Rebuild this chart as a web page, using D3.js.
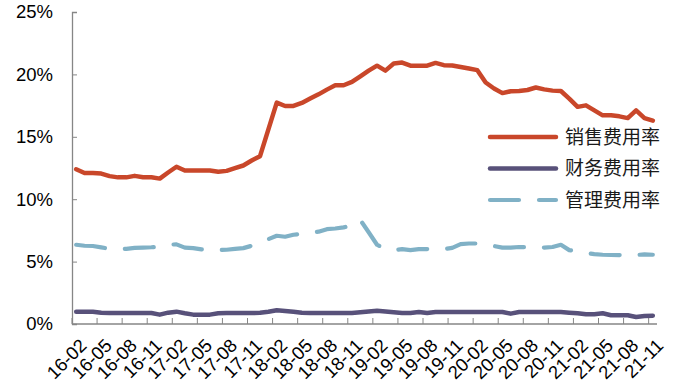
<!DOCTYPE html>
<html>
<head>
<meta charset="utf-8">
<script src="https://cdn.jsdelivr.net/npm/d3@7"></script>
<style>
  html, body { margin: 0; padding: 0; background: #fff; }
  svg { display: block; }
</style>
</head>
<body>
<svg id="chart" width="680" height="385"></svg>
<script>
// Monthly categories 2016-02 .. 2021-11
const categories = [
  "16-02","16-03","16-04","16-05","16-06","16-07","16-08","16-09","16-10","16-11","16-12",
  "17-01","17-02","17-03","17-04","17-05","17-06","17-07","17-08","17-09","17-10","17-11","17-12",
  "18-01","18-02","18-03","18-04","18-05","18-06","18-07","18-08","18-09","18-10","18-11","18-12",
  "19-01","19-02","19-03","19-04","19-05","19-06","19-07","19-08","19-09","19-10","19-11","19-12",
  "20-01","20-02","20-03","20-04","20-05","20-06","20-07","20-08","20-09","20-10","20-11","20-12",
  "21-01","21-02","21-03","21-04","21-05","21-06","21-07","21-08","21-09","21-10","21-11"
];

// Expense ratios, %
const salesRate = [
  12.4, 12.1, 12.1, 12.05, 11.85, 11.75, 11.75, 11.87, 11.76, 11.76, 11.65,
  12.14, 12.6, 12.3, 12.3, 12.3, 12.3, 12.2, 12.27, 12.49, 12.7, 13.1, 13.45,
  15.6, 17.74, 17.47, 17.47, 17.71, 18.06, 18.4, 18.78, 19.13, 19.13, 19.4, 19.85,
  20.3, 20.7, 20.3, 20.87, 20.95, 20.7, 20.7, 20.7, 20.92, 20.74, 20.72, 20.6,
  20.47, 20.34, 19.35, 18.87, 18.5, 18.65, 18.67, 18.75, 18.95, 18.8, 18.7, 18.67,
  18.06, 17.4, 17.52, 17.12, 16.72, 16.72, 16.64, 16.5, 17.12, 16.5, 16.3
];
const financeRate = [
  0.99, 0.99, 0.99, 0.91, 0.88, 0.88, 0.88, 0.88, 0.88, 0.88, 0.75,
  0.91, 0.99, 0.86, 0.75, 0.75, 0.75, 0.86, 0.88, 0.88, 0.88, 0.88, 0.9,
  0.98, 1.1, 1.04, 0.99, 0.91, 0.88, 0.88, 0.88, 0.88, 0.88, 0.88, 0.94,
  1.01, 1.07, 1.01, 0.94, 0.88, 0.88, 0.96, 0.88, 0.96, 0.96, 0.96, 0.96,
  0.96, 0.96, 0.96, 0.96, 0.96, 0.83, 0.96, 0.96, 0.96, 0.96, 0.96, 0.96,
  0.91, 0.86, 0.78, 0.78, 0.86, 0.7, 0.7, 0.7, 0.56, 0.64, 0.67
];
const adminRate = [
  6.35, 6.27, 6.25, 6.14, 6.02, 5.98, 6.02, 6.1, 6.12, 6.15, 6.2,
  6.35, 6.38, 6.12, 6.08, 5.98, 5.92, 5.92, 5.95, 6.02, 6.08, 6.27, 6.5,
  6.8, 7.07, 6.99, 7.15, 7.22, 7.34, 7.4, 7.6, 7.65, 7.74, 7.9, 8.33,
  7.35, 6.35, 6.0, 5.92, 6.0, 5.92, 6.0, 6.0, 6.0, 6.0, 6.1, 6.4,
  6.45, 6.45, 6.32, 6.25, 6.12, 6.12, 6.17, 6.15, 6.12, 6.12, 6.17, 6.35,
  5.92, 5.8, 5.68, 5.6, 5.55, 5.53, 5.52, 5.52, 5.53, 5.58, 5.55
];

const seriesNames = ["销售费用率", "财务费用率", "管理费用率"];
const seriesColors = ["#C9472A", "#58517A", "#80B1C6"];

const yTickValues = [0, 5, 10, 15, 20, 25];
const xTickLabels = [
  "16-02","16-05","16-08","16-11","17-02","17-05","17-08","17-11",
  "18-02","18-05","18-08","18-11","19-02","19-05","19-08","19-11",
  "20-02","20-05","20-08","20-11","21-02","21-05","21-08","21-11"
];

const svg = d3.select("#chart");
const plotLeft = 72, plotRight = 657, plotTop = 12, plotBottom = 324;
const axisColor = "#868686";
const latin = "'Liberation Sans', Arial, sans-serif";
const cjk = "'Noto Sans CJK SC', 'Noto Sans', sans-serif";

const x = d3.scaleBand().domain(categories).range([plotLeft, plotRight]).paddingInner(0).paddingOuter(0);
const y = d3.scaleLinear().domain([0, 25]).range([plotBottom, plotTop]);
const cx = c => x(c) + x.bandwidth() / 2;

// Y axis: inward ticks, labels on the left
const yAxis = d3.axisRight(y).tickValues(yTickValues).tickSize(5).tickFormat(d => d + "%");
const yg = svg.append("g").attr("transform", `translate(${plotLeft},0)`).call(yAxis);
yg.select(".domain").attr("stroke", axisColor).attr("stroke-width", 1.3);
yg.selectAll(".tick line").attr("stroke", axisColor).attr("stroke-width", 1);
yg.selectAll(".tick text")
  .attr("x", -19).attr("text-anchor", "end")
  .attr("font-family", latin).attr("font-size", 18.5).attr("fill", "#000");

// X axis: ticks between every third month, labels rotated
const tickCats = categories.filter((c, i) => i % 3 === 0);
const xg = svg.append("g");
xg.append("line")
  .attr("x1", plotLeft).attr("x2", plotRight).attr("y1", plotBottom).attr("y2", plotBottom)
  .attr("stroke", axisColor).attr("stroke-width", 1.3);
xg.selectAll("line.tick").data(tickCats).join("line").attr("class", "tick")
  .attr("x1", d => x(d)).attr("x2", d => x(d))
  .attr("y1", plotBottom).attr("y2", plotBottom - 6)
  .attr("stroke", axisColor).attr("stroke-width", 1);
xg.selectAll("text").data(xTickLabels).join("text")
  .attr("transform", d => `translate(${cx(d) + 7},${plotBottom + 18}) rotate(-45)`)
  .attr("text-anchor", "end")
  .attr("dy", "0.36em")
  .attr("font-family", latin).attr("font-size", 18.5).attr("fill", "#000")
  .text(d => d);

// Lines
const seriesData = [salesRate, financeRate, adminRate];
const line = d3.line().x((d, i) => cx(categories[i])).y(d => y(d));
const widths = [4.5, 4.5, 4.2];
const dashes = [null, null, "29,20"];
seriesData.forEach((vals, k) => {
  svg.append("path")
    .datum(vals)
    .attr("d", line)
    .attr("fill", "none")
    .attr("stroke", seriesColors[k])
    .attr("stroke-width", widths[k])
    .attr("stroke-linejoin", "round")
    .attr("stroke-linecap", "round")
    .attr("stroke-dasharray", dashes[k]);
});

// Legend
const legendY = [137, 168.5, 200];
const lg = svg.append("g");
seriesNames.forEach((name, k) => {
  lg.append("line")
    .attr("x1", 490).attr("x2", 556)
    .attr("y1", legendY[k]).attr("y2", legendY[k])
    .attr("stroke", seriesColors[k])
    .attr("stroke-width", widths[k])
    .attr("stroke-linecap", "round")
    .attr("stroke-dasharray", dashes[k]);
  lg.append("text")
    .attr("x", 565).attr("y", legendY[k])
    .attr("dy", "0.36em")
    .attr("font-family", cjk).attr("font-size", 19).attr("fill", "#1a1a1a")
    .text(name);
});
</script>
</body>
</html>
